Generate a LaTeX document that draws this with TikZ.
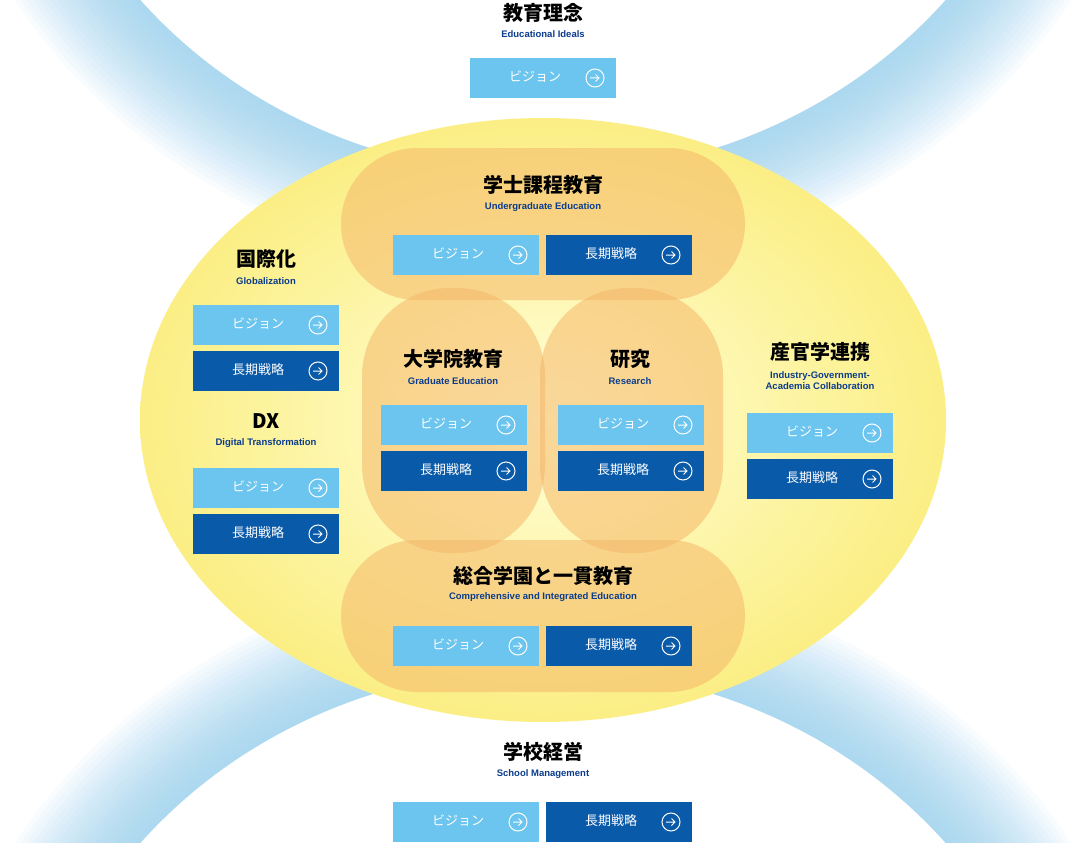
\documentclass[tikz,border=0pt]{standalone}
\usepackage{fontspec}
\setmainfont{Noto Sans CJK JP}
\newfontfamily\subf{Liberation Sans}
\definecolor{lb}{HTML}{6BC5EE}
\definecolor{db}{HTML}{0A5AAA}
\definecolor{sub}{HTML}{0B3C8C}
\definecolor{glow}{HTML}{8CCDF0}
\definecolor{yel}{HTML}{FBEE84}
\definecolor{org}{HTML}{F5B86A}
\tikzset{
 btn/.style={minimum width=146pt,minimum height=40pt,inner sep=0,draw=none},
 vis/.style={btn,fill=lb},
 stg/.style={btn,fill=db},
 ttl/.style={font=\fontsize{20}{22}\selectfont\bfseries},
 sbt/.style={font=\subf\fontsize{9.5}{11}\selectfont\bfseries,text=sub,align=center},
 blob/.style={fill=org,fill opacity=0.55,draw=none},
}
\newcommand{\mybtn}[5]{%
 \node[#4] (#1) at (#2+73,#3+20) {};
 \node[text=white,font=\fontsize{13}{14}\selectfont] (#1t) at (#2+65,#3+19) {#5};
 \node[circle,draw=white,line width=1pt,minimum size=18pt,inner sep=0] (#1c) at (#2+125,#3+20) {};
 \draw[white,line width=1pt] (#1c.west)++(4.5pt,0) -- ++(9pt,0) ++(-3.5pt,3.5pt) -- ++(3.5pt,-3.5pt) -- ++(-3.5pt,-3.5pt);
}
\begin{document}
\begin{tikzpicture}[x=1pt,y=-1pt]
\useasboundingbox (0,0) rectangle (1085,843);
\fill[white] (0,0) rectangle (1085,843);
\begin{scope}
\clip (0,0) rectangle (1085,843);
\foreach \w in {200,190,...,10}{
 \draw[glow,line width=\w pt,opacity=0.055] (543,-300) ellipse [x radius=519,y radius=475];
 \draw[glow,line width=\w pt,opacity=0.055] (543,1143) ellipse [x radius=519,y radius=475];
}
\fill[white] (543,-300) ellipse [x radius=519,y radius=475];
\fill[white] (543,1143) ellipse [x radius=519,y radius=475];
\end{scope}
\shade[inner color=yellow!15,outer color=yel] (543,420) ellipse [x radius=403,y radius=302];
\fill[blob,rounded corners=76pt] (341,148) rectangle (745,300);
\fill[blob,rounded corners=76pt] (341,540) rectangle (745,692);
\fill[blob,rounded corners=88pt] (362,288) rectangle (545,553);
\fill[blob,rounded corners=88pt] (540,288) rectangle (723,553);

\node[ttl] (t1) at (543,13) {教育理念};
\node[sbt] (s1) at (543,34) {Educational Ideals};
\mybtn{a1}{470}{58}{vis}{ビジョン}

\node[ttl] (t2) at (543,185) {学士課程教育};
\node[sbt] (s2) at (543,207) {Undergraduate Education};
\mybtn{b1}{393}{235}{vis}{ビジョン}
\mybtn{b2}{546}{235}{stg}{長期戦略}

\node[ttl] (t3) at (266,259) {国際化};
\node[sbt] (s3) at (266,281) {Globalization};
\mybtn{c1}{193}{305}{vis}{ビジョン}
\mybtn{c2}{193}{351}{stg}{長期戦略}

\node[ttl] (t4) at (266,421) {DX};
\node[sbt] (s4) at (266,443) {Digital Transformation};
\mybtn{d1}{193}{468}{vis}{ビジョン}
\mybtn{d2}{193}{514}{stg}{長期戦略}

\node[ttl] (t5) at (453,359) {大学院教育};
\node[sbt] (s5) at (453,381) {Graduate Education};
\mybtn{e1}{381}{405}{vis}{ビジョン}
\mybtn{e2}{381}{451}{stg}{長期戦略}

\node[ttl] (t6) at (630,359) {研究};
\node[sbt] (s6) at (630,381) {Research};
\mybtn{f1}{558}{405}{vis}{ビジョン}
\mybtn{f2}{558}{451}{stg}{長期戦略}

\node[ttl] (t7) at (820,352) {産官学連携};
\node[sbt] (s7) at (820,381) {Industry-Government-\\Academia Collaboration};
\mybtn{g1}{747}{413}{vis}{ビジョン}
\mybtn{g2}{747}{459}{stg}{長期戦略}

\node[ttl] (t8) at (543,576) {総合学園と一貫教育};
\node[sbt] (s8) at (543,597) {Comprehensive and Integrated Education};
\mybtn{h1}{393}{626}{vis}{ビジョン}
\mybtn{h2}{546}{626}{stg}{長期戦略}

\node[ttl] (t9) at (543,752) {学校経営};
\node[sbt] (s9) at (543,774) {School Management};
\mybtn{i1}{393}{802}{vis}{ビジョン}
\mybtn{i2}{546}{802}{stg}{長期戦略}
\end{tikzpicture}
\end{document}
